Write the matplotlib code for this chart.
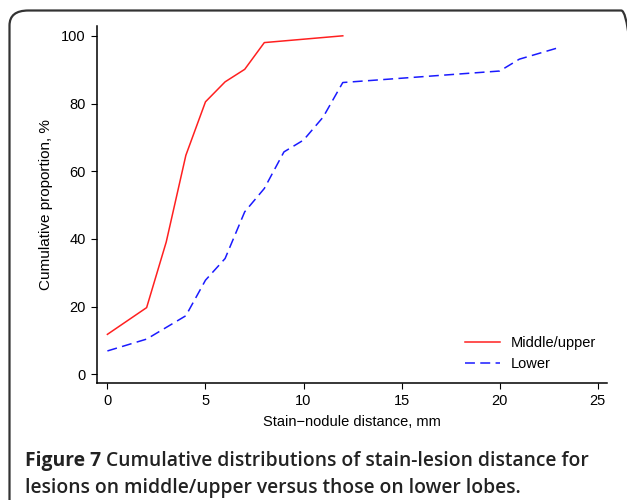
import matplotlib.pyplot as plt
from matplotlib.patches import FancyBboxPatch

# cumulative distributions
dist_upper = [0, 2, 3, 4, 5, 6, 7, 8, 12]
pct_upper = [11.8, 19.7, 39.1, 64.7, 80.5, 86.4, 90.1, 98.0, 100.0]

dist_lower = [0, 2, 4, 5, 6, 7, 8, 9, 10, 11, 12, 20, 21, 23]
pct_lower = [6.9, 10.4, 17.3, 27.8, 34.2, 48.0, 54.9, 65.7, 69.2, 76.0, 86.2, 89.6, 93.1, 96.5]

x_ticks = [0, 5, 10, 15, 20, 25]
y_ticks = [0, 20, 40, 60, 80, 100]

W, H = 627, 500
fig = plt.figure(figsize=(W / 100, H / 100), dpi=100)

# rounded frame around the panel (right and bottom edges run off the image)
frame = FancyBboxPatch((9.5 / W, 1 - 515 / H), (640 - 9.5) / W, (515 - 10.5) / H,
                       boxstyle='round,pad=0,rounding_size=0.03',
                       transform=fig.transFigure, fill=False,
                       edgecolor='#333333', linewidth=1.6)
fig.patches.append(frame)

ax = fig.add_axes([97 / W, 1 - 383.3 / H, (607 - 97) / W, (383.3 - 26) / H])
ax.plot(dist_upper, pct_upper, color='#ff2020', lw=1.1, label='Middle/upper')
ax.plot(dist_lower, pct_lower, color='#1a1aff', lw=1.1, dashes=(6.5, 3.5), label='Lower')

ax.set_xlim(-0.53, 25.47)
ax.set_ylim(-2.66, 102.9)
ax.set_xticks(x_ticks)
ax.set_yticks(y_ticks)
for s in ['top', 'right']:
    ax.spines[s].set_visible(False)
for s in ['left', 'bottom']:
    ax.spines[s].set_linewidth(1.1)

tick_font = 'Liberation Sans'
ax.tick_params(direction='out', length=4, width=0.8, labelsize=10.5, pad=4)
for lab in ax.get_xticklabels() + ax.get_yticklabels():
    lab.set_fontfamily(tick_font)

ax.set_xlabel('Stain\u2212nodule distance, mm', fontsize=10.5, family=tick_font, labelpad=5)
ax.set_ylabel('Cumulative proportion, %', fontsize=11, family=tick_font, labelpad=6)

ax.legend(loc='center left', bbox_to_anchor=(458 / W, 1 - 353.5 / H),
          bbox_transform=fig.transFigure, frameon=False, borderpad=0,
          prop={'family': tick_font, 'size': 10.5}, handlelength=2.4,
          handletextpad=0.7, labelspacing=0.5)

# caption: bold lead-in followed by the rest of the first line
cap_font = 'Open Sans'
cap_size = 13.9
x0, y1, y2 = 25, 466, 493
lead = fig.text(x0 / W, 1 - y1 / H, 'Figure 7', fontsize=cap_size, family=cap_font,
                weight='bold', va='baseline', color='#222222')
fig.canvas.draw()
bb = lead.get_window_extent()
fig.text((bb.x1 + 5) / W, 1 - y1 / H,
         'Cumulative distributions of stain-lesion distance for',
         fontsize=cap_size, family=cap_font, weight='semibold', va='baseline', color='#222222')
fig.text(x0 / W, 1 - y2 / H,
         'lesions on middle/upper versus those on lower lobes.',
         fontsize=cap_size, family=cap_font, weight='semibold', va='baseline', color='#222222')

fig.savefig('out.png', dpi=100)
